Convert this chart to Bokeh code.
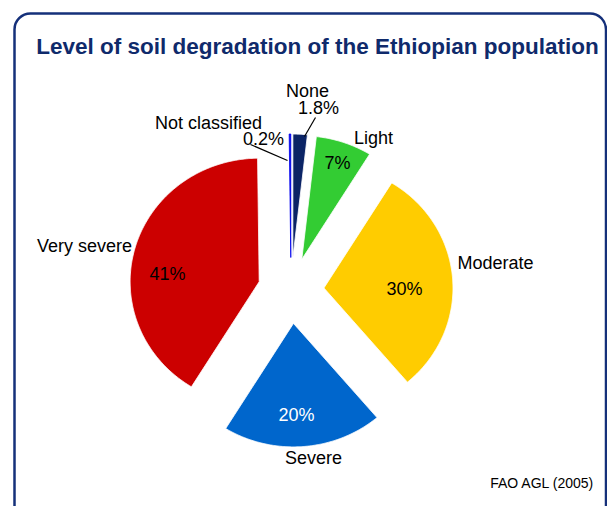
import numpy as np
from bokeh.plotting import figure
from bokeh.models import Range1d, ColumnDataSource
from bokeh.embed import file_html
from bokeh.resources import INLINE
from bokeh.core.properties import value

# ---- data ----
categories = ["None", "Light", "Moderate", "Severe", "Very severe", "Not classified"]
shares = [1.8, 7, 30, 20, 41, 0.2]
colors = ["#0b2466", "#33cc33", "#ffcc00", "#0066cc", "#cc0000", "#0000ee"]
title_text = "Level of soil degradation of the Ethiopian population"
source_text = "FAO AGL (2005)"

# ---- layout (screen pixel positions, y from top) ----
W, H = 607, 506
CX, CY, R, SX, EXPLODE = 290.5, 290.0, 123.5, 1.045, 33.0
name_pos = [(307, 90), (373, 137), (495, 262), (313, 457), (84, 245), (208, 122)]
pct_pos = [(318, 107), (337, 162), (404, 288), (296, 414), (167, 273), (263, 138)]
pct_colors = ["black", "black", "black", "white", "black", "black"]
leaders = [((304, 136), (315, 117)), None, None, None, None, ((287, 160), (250, 144))]
outline_w = [0.8, 0.8, 0.8, 0.8, 0.8, 0.8]
outline_c = ["white", "white", "white", "white", "white", "#0000ee"]

p = figure(width=W, height=H, x_range=Range1d(0, W), y_range=Range1d(0, H),
           output_backend="svg", toolbar_location=None, min_border=0,
           x_axis_location=None, y_axis_location=None)
p.xgrid.visible = False
p.ygrid.visible = False
p.outline_line_color = None
p.background_fill_color = "white"
p.border_fill_color = "white"

# pie slices (clockwise from 12 o'clock), each exploded along its bisector
vals = np.array(shares, dtype=float)
cum = np.concatenate([[0.0], np.cumsum(vals)]) / vals.sum() * 360.0
t1, t2 = cum[:-1], cum[1:]
mid = np.radians((t1 + t2) / 2)
cy_data = H - CY
ax = CX + EXPLODE * np.sin(mid)
ay = cy_data + EXPLODE * np.cos(mid)
pxs, pys = [], []
for a, b, x0, y0 in zip(t1, t2, ax, ay):
    n = max(3, int((b - a) / 0.5) + 2)
    th = np.radians(np.linspace(a, b, n))
    pxs.append(np.concatenate([[x0], x0 + R * SX * np.sin(th)]))
    pys.append(np.concatenate([[y0], y0 + R * np.cos(th)]))
src = ColumnDataSource(dict(xs=pxs, ys=pys, color=colors, cat=categories,
                            lw=outline_w, lc=outline_c))
p.patches(xs="xs", ys="ys", fill_color="color", line_color="lc",
          line_width="lw", source=src)

# leader lines
for ld in leaders:
    if ld is None:
        continue
    (x0, y0), (x1, y1) = ld
    p.line([x0, x1], [H - y0, H - y1], line_color="black", line_width=1.2)

# category labels
p.text(x=[q[0] for q in name_pos], y=[H - q[1] for q in name_pos], text=categories,
       text_font=value("Liberation Sans"), text_font_size="18px",
       text_align="center", text_baseline="middle", text_color="black")

# percent labels
pct_text = [f"{v:g}%" for v in shares]
p.text(x=[q[0] for q in pct_pos], y=[H - q[1] for q in pct_pos], text=pct_text,
       text_font=value("Liberation Sans"), text_font_size="18px",
       text_align="center", text_baseline="middle", text_color=pct_colors)

# title
p.text(x=[317], y=[H - 46], text=[title_text], text_font=value("Liberation Sans"),
       text_font_size="22.5px", text_font_style="bold", text_color="#0f2a6b",
       text_align="center", text_baseline="middle")

# source note
p.text(x=[594], y=[H - 482], text=[source_text], text_font=value("Liberation Sans"),
       text_font_size="14px", text_color="black",
       text_align="right", text_baseline="middle")

# rounded frame
p.quad(left=[14], right=[605.5], top=[H - 13], bottom=[-30], fill_color=None,
       line_color="#15307a", line_width=2.5, border_radius=16)

open("out.html", "w").write(file_html(p, INLINE))
